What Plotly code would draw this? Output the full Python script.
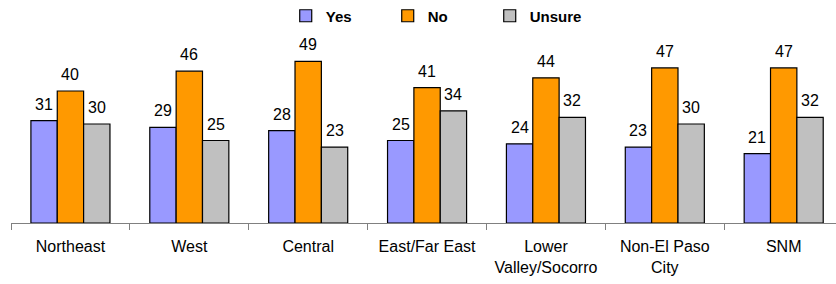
import plotly.graph_objects as go

categories = ["Northeast", "West", "Central", "East/Far East", "Lower<br>Valley/Socorro", "Non-El Paso<br>City", "SNM"]
yes_vals = [31, 29, 28, 25, 24, 23, 21]
no_vals = [40, 46, 49, 41, 44, 47, 47]
unsure_vals = [30, 25, 23, 34, 32, 30, 32]

series = [("Yes", yes_vals, "#9999FF"), ("No", no_vals, "#FF9900"), ("Unsure", unsure_vals, "#C0C0C0")]

W, H = 836, 284
ML, MR, MT, MB = 11, 0, 40, 61
BARGAP = 0.335
X_RANGE = [-0.5, 6.44]
PX_PER_UNIT = 3.3
plot_h = H - MT - MB
Y_RANGE = [0, plot_h / PX_PER_UNIT]
FONT = "Liberation Sans, Arial, sans-serif"

fig = go.Figure()
for name, vals, color in series:
    fig.add_trace(go.Bar(
        x=categories, y=vals, name=name,
        marker=dict(color=color, line=dict(color="#000000", width=1.2)),
    ))

# data labels above bars
plot_w = W - ML - MR
cat_px = plot_w / (X_RANGE[1] - X_RANGE[0])
bar_px = cat_px * (1 - BARGAP) / len(series)
annotations = []
for i, (name, vals, color) in enumerate(series):
    for c, v in zip(categories, vals):
        annotations.append(dict(
            x=c, y=v, xref="x", yref="y", text=str(v), showarrow=False,
            xshift=(i - 1) * bar_px, yshift=6, yanchor="bottom",
            font=dict(family=FONT, size=16, color="#000000"),
        ))

fig.update_layout(
    width=W, height=H,
    margin=dict(l=ML, r=MR, t=MT, b=MB, pad=0, autoexpand=False),
    barmode="group", bargap=BARGAP, bargroupgap=0,
    plot_bgcolor="#FFFFFF", paper_bgcolor="#FFFFFF",
    font=dict(family=FONT, size=16, color="#000000"),
    showlegend=True,
    legend=dict(
        orientation="h", x=0.333, xanchor="left", y=1 + 24 / plot_h, yanchor="middle",
        font=dict(family=FONT, size=15, color="#000000", weight="bold"),
        entrywidth=57, entrywidthmode="pixels",
        itemwidth=30, bgcolor="rgba(0,0,0,0)",
    ),
    annotations=annotations,
    xaxis=dict(
        range=X_RANGE, showline=True, linecolor="#808080", linewidth=1,
        ticks="outside", tickson="boundaries", ticklen=6, tickcolor="#808080",
        showgrid=False, zeroline=False, automargin=False, ticklabelstandoff=9,
        tickfont=dict(family=FONT, size=16, color="#000000"),
    ),
    yaxis=dict(range=Y_RANGE, visible=False, showgrid=False, zeroline=False, automargin=False),
)

fig.write_html("out.html", config={"displayModeBar": False},
               post_script="document.body.style.margin='0';")
